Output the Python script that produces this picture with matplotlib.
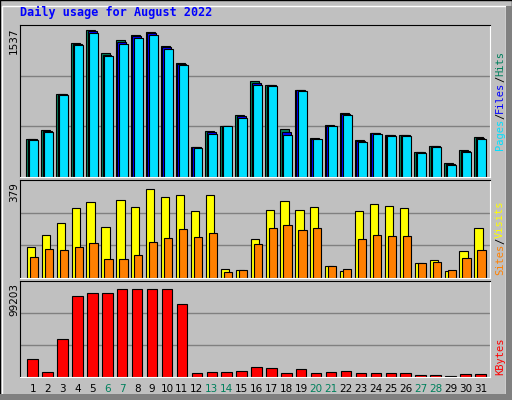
import matplotlib
matplotlib.use('Agg')
import matplotlib.pyplot as plt
from matplotlib.patches import Rectangle
import numpy as np

days = list(range(1, 32))
weekend = [6, 7, 13, 14, 20, 21, 27, 28]

hits = [388, 480, 848, 1365, 1501, 1263, 1399, 1450, 1481, 1338, 1164, 306, 470, 521, 633, 980,
        940, 490, 888, 398, 531, 654, 378, 449, 429, 429, 255, 317, 143, 276, 408]
files = [384, 470, 843, 1357, 1486, 1250, 1380, 1437, 1470, 1325, 1155, 302, 455, 521, 620, 962,
         935, 456, 885, 393, 525, 645, 370, 445, 425, 425, 252, 312, 133, 262, 400]
pages = [378, 456, 837, 1345, 1467, 1236, 1358, 1419, 1450, 1307, 1144, 296, 439, 521, 603, 940,
         929, 429, 878, 388, 517, 633, 357, 439, 419, 419, 245, 306, 123, 255, 388]
sites = [126, 175, 225, 286, 309, 209, 316, 290, 362, 328, 336, 274, 336, 37, 33, 160,
         278, 313, 278, 290, 48, 29, 274, 301, 294, 286, 60, 75, 29, 110, 202]
visits = [87, 117, 114, 125, 144, 79, 79, 94, 148, 163, 198, 167, 182, 26, 33, 137,
          205, 217, 194, 205, 48, 37, 160, 175, 171, 171, 60, 64, 33, 83, 114]
kbytes = [19200, 5600, 41200, 88300, 91500, 91500, 95600, 95600, 95600, 95600, 78900, 4500, 5600,
          5600, 6600, 10800, 9800, 4500, 8700, 4500, 5600, 6600, 4500, 4500, 4500, 4500, 2400,
          2400, 1000, 3500, 3500]
max_hits, max_sites, max_kb = 1537, 379, 99203

W, H = 512, 400
fig = plt.figure(figsize=(W / 100, H / 100), dpi=100)
fig.patch.set_facecolor('#C0C0C0')
# 3d border
fig.patches.append(Rectangle((0, 0), 1, 1, transform=fig.transFigure, fill=False,
                             edgecolor='black', lw=1))
fig.patches.append(Rectangle((2 / W, 2 / H), 1 - 8 / W, 1 - 8 / H, transform=fig.transFigure,
                             fill=False, edgecolor='white', lw=1))
fig.patches.append(Rectangle((W - 6, 0), 6, H - 6, transform=None, color='#808080', lw=0))
fig.patches.append(Rectangle((0, 0), W, 6, transform=None, color='#808080', lw=0))

fig.text(20 / W, 1 - 12 / H, 'Daily usage for August 2022', color='#0000FF', fontsize=8.5,
         fontweight='bold', family='DejaVu Sans Mono', va='center', ha='left')

x = np.array(days)
left, right = 20 / W, 490 / W


def panel(top, bottom, ymax):
    ax = fig.add_axes([left, 1 - bottom / H, right - left, (bottom - top) / H])
    ax.set_facecolor('#C0C0C0')
    ax.set_xlim(0.15, 31.65)
    ax.set_ylim(0, ymax)
    ax.set_xticks([])
    ax.set_yticks([])
    for y in (ymax / 3, 2 * ymax / 3):
        ax.axhline(y, color='#808080', lw=1, zorder=0)
    for s in ax.spines.values():
        s.set_color('black')
    ax.spines['right'].set_color('white')
    ax.spines['bottom'].set_color('white')
    return ax


ax1 = panel(25, 177, max_hits * 1.01)
ax1.bar(x - 0.12, hits, 0.6, color='#00805C', edgecolor='black', lw=0.8)
ax1.bar(x - 0.02, files, 0.6, color='#0000FF', edgecolor='black', lw=0.8)
ax1.bar(x + 0.08, pages, 0.6, color='#00E0FF', edgecolor='black', lw=0.8)

ax2 = panel(180, 278, max_sites * 1.05)
ax2.bar(x - 0.12, sites, 0.55, color='#FFFF00', edgecolor='black', lw=0.8)
ax2.bar(x + 0.08, visits, 0.55, color='#FF8000', edgecolor='black', lw=0.8)

ax3 = panel(281, 377, max_kb * 1.05)
ax3.bar(x, kbytes, 0.7, color='#FF0000', edgecolor='black', lw=0.8)

for d in days:
    fig.text((20 + (d - 0.15) * 470 / 31.5) / W, 1 - 389 / H, str(d), ha='center', va='center',
             fontsize=7.5, color='#00805C' if d in weekend else 'black')

for top, label in ((27, str(max_hits)), (182, str(max_sites)), (283, str(max_kb))):
    fig.text(14 / W, 1 - top / H, label, rotation=90, ha='center', va='top', fontsize=7.5)


def side(parts, bottom):
    y = bottom
    for txt, col in parts:
        t = fig.text(500 / W, 1 - y / H, txt, rotation=90, ha='center', va='bottom',
                     fontsize=7.5, color=col, family='DejaVu Sans Mono')
        y -= len(txt) * 6.2


side([('Pages', '#00E0FF'), ('/', 'black'), ('Files', '#0000FF'), ('/', 'black'),
      ('Hits', '#00805C')], 150)
side([('Sites', '#FF8000'), ('/', 'black'), ('Visits', '#FFFF00')], 275)
side([('KBytes', '#FF0000')], 375)

fig.savefig('out.png', dpi=100, facecolor=fig.get_facecolor())
